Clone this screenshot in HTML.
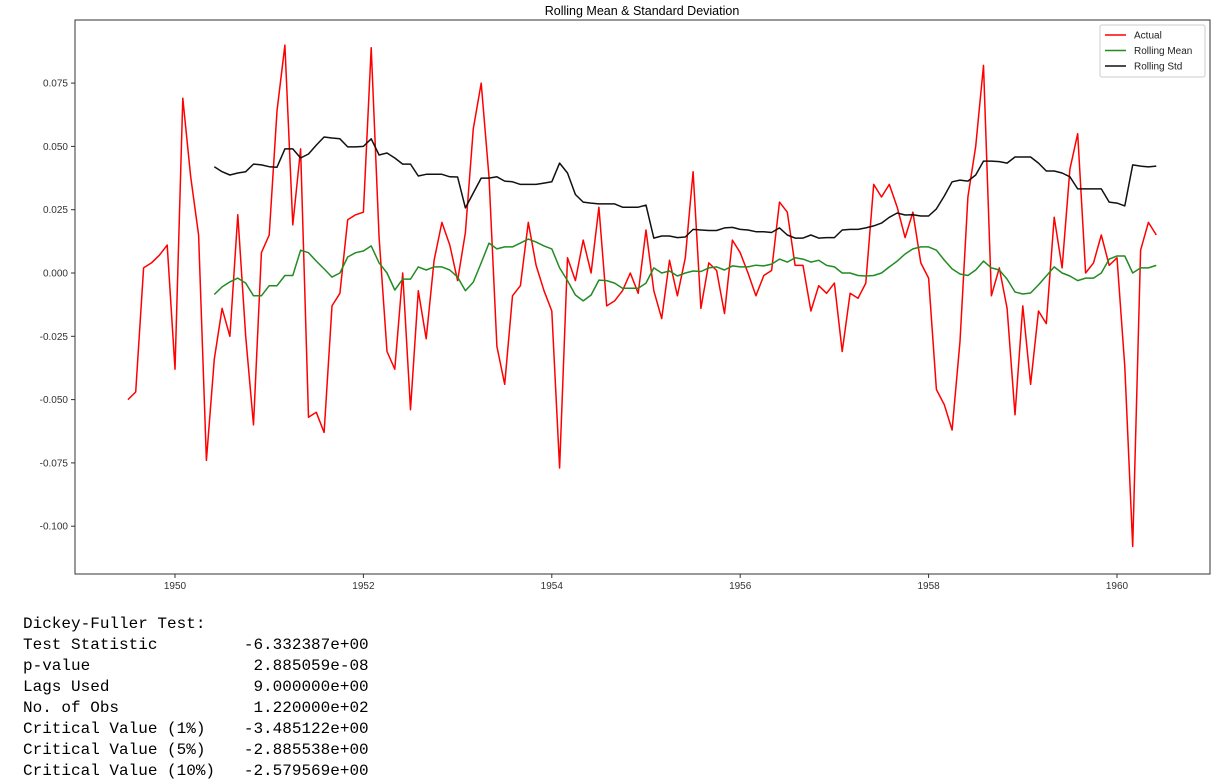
<!DOCTYPE html>
<html><head><meta charset="utf-8"><style>
body{margin:0;background:#fff;width:1232px;height:782px;overflow:hidden;position:relative;font-family:"Liberation Sans",sans-serif}
pre{position:absolute;left:23px;top:614px;margin:0;font-family:"Liberation Mono",monospace;font-size:16px;line-height:21px;color:#000}
</style></head><body>
<svg id="chart" width="1232" height="600" style="position:absolute;left:0;top:0"></svg>
<pre>Dickey-Fuller Test:
Test Statistic         -6.332387e+00
p-value                 2.885059e-08
Lags Used               9.000000e+00
No. of Obs              1.220000e+02
Critical Value (1%)    -3.485122e+00
Critical Value (5%)    -2.885538e+00
Critical Value (10%)   -2.579569e+00</pre>
<script>
const actual=[-0.050,-0.047,0.002,0.004,0.007,0.011,-0.038,0.069,0.038,0.015,-0.074,-0.034,-0.014,-0.025,0.023,-0.025,-0.060,0.008,0.015,0.064,0.090,0.019,0.049,-0.057,
-0.055,-0.063,-0.013,-0.008,0.021,0.023,0.024,0.089,0.014,-0.031,-0.038,0.000,-0.054,-0.007,-0.026,0.005,0.020,0.011,-0.003,0.016,0.057,0.075,
0.038,-0.029,-0.044,-0.009,-0.005,0.020,0.003,-0.007,-0.015,-0.077,0.006,-0.003,0.013,0.000,0.026,-0.013,-0.011,-0.007,0.000,-0.008,0.017,-0.007,-0.018,
0.005,-0.009,0.006,0.040,-0.014,0.004,0.001,-0.016,0.013,0.008,0.000,-0.009,-0.001,0.001,0.028,0.024,0.003,0.003,-0.015,-0.005,-0.008,-0.004,-0.031,
-0.008,-0.010,-0.004,0.035,0.030,0.035,0.026,0.014,0.024,0.004,-0.002,-0.046,-0.052,-0.062,-0.027,0.030,0.050,0.082,-0.009,0.002,-0.014,-0.056,-0.013,
-0.044,-0.015,-0.020,0.022,0.002,0.041,0.055,0.000,0.004,0.015,0.003,0.006,-0.037,-0.108,0.009,0.020,0.015];
const rollMean=[-0.0085,-0.0055,-0.0035,-0.002,-0.004,-0.009,-0.009,-0.005,-0.005,-0.001,-0.001,0.009,0.008,
0.0047,0.0016,-0.0016,0.000,0.0063,0.008,0.0087,0.0107,0.004,0.000,-0.0067,-0.0024,-0.0024,0.0024,0.0012,0.0024,0.0024,0.0012,-0.0016,-0.007,-0.0036,0.004,
0.0118,0.0095,0.0103,0.0103,0.0118,0.0134,0.0122,0.0107,0.0095,0.002,-0.003,-0.0087,-0.011,-0.0087,-0.0028,-0.003,-0.004,-0.006,-0.006,-0.006,-0.004,0.002,0.000,
0.0008,-0.0012,0.000,0.0008,0.0006,0.002,0.0024,0.0012,0.0028,0.0024,0.0024,0.0031,0.0028,0.0035,0.0055,0.0043,0.006,0.0055,0.0043,0.005,0.003,0.0024,0.000,
0.000,-0.001,-0.0012,-0.001,0.000,0.0024,0.0047,0.0075,0.0095,0.0103,0.0103,0.009,0.0051,0.0016,-0.0004,-0.001,0.0012,0.0047,0.002,0.0012,-0.0024,-0.0075,-0.0083,
-0.0079,-0.0047,-0.0012,0.0024,0.000,-0.0012,-0.003,-0.002,-0.002,0.000,0.0055,0.0067,0.0067,0.000,0.002,0.002,0.003];
const rollStd=[0.042,0.040,0.0387,0.0395,0.040,0.043,0.0427,0.042,0.0418,0.049,0.049,0.0454,0.047,
0.0505,0.0537,0.0533,0.053,0.0498,0.0498,0.050,0.053,0.0466,0.0474,0.0454,0.043,0.043,0.0383,0.039,0.039,0.039,0.038,0.0379,0.0257,0.0316,0.0375,
0.0375,0.038,0.0363,0.036,0.035,0.035,0.035,0.0355,0.036,0.0434,0.0395,0.031,0.028,0.0276,0.0273,0.0273,0.0273,0.026,0.026,0.026,0.0268,0.0138,0.0146,
0.0146,0.014,0.0142,0.0172,0.017,0.0168,0.0168,0.0178,0.018,0.0172,0.017,0.0163,0.0163,0.016,0.0178,0.015,0.0138,0.0138,0.015,0.0138,0.014,0.014,0.017,
0.0172,0.0172,0.0178,0.0186,0.0197,0.022,0.0237,0.0229,0.023,0.0225,0.0225,0.0253,0.0304,0.036,0.0367,0.0363,0.0387,0.0442,0.0442,0.044,0.0434,0.0458,0.0458,
0.0458,0.0434,0.0403,0.0403,0.0395,0.038,0.0332,0.0332,0.0332,0.0332,0.028,0.0276,0.0265,0.0427,0.0422,0.0419,0.0422];
const xTicks=[1950,1952,1954,1956,1958,1960];
const yTicks=[-0.100,-0.075,-0.050,-0.025,0.000,0.025,0.050,0.075];
const startYear=1949.5, windowOffset=11;

const NS='http://www.w3.org/2000/svg';
const svg=document.getElementById('chart');
const L=75,R=1210,T=20,B=574;
const xs=y=>175+(y-1950)*94.2;
const ys=v=>273-v*2532;
const yr=i=>startYear+i/12;
function mk(tag,attrs,parent){const e=document.createElementNS(NS,tag);for(const k in attrs)e.setAttribute(k,attrs[k]);(parent||svg).appendChild(e);return e;}

const title=mk('text',{x:642,y:15,'text-anchor':'middle','font-size':12.5,fill:'#000'});
title.textContent='Rolling Mean & Standard Deviation';



const frame=mk('rect',{x:L,y:T,width:R-L,height:B-T,fill:'none',stroke:'#333','stroke-width':1});



xTicks.forEach(t=>{
  const x=xs(t);
  const tk=mk('line',{x1:x,x2:x,y1:B,y2:B+4,stroke:'#333'});
  
  
  const tx=mk('text',{x:x,y:B+15,'text-anchor':'middle','font-size':10,fill:'#333'});
  tx.textContent=t;
  
  
});
yTicks.forEach(t=>{
  const y=ys(t);
  const tk=mk('line',{x1:L-4,x2:L,y1:y,y2:y,stroke:'#333'});
  
  
  const tx=mk('text',{x:L-7,y:y+3.5,'text-anchor':'end','font-size':10,fill:'#333'});
  tx.textContent=t.toFixed(3);
  
  
});

function series(arr,off,color,name){
  const pts=arr.map((v,i)=>xs(yr(i+off)).toFixed(1)+','+ys(v).toFixed(1)).join(' ');
  const p=mk('polyline',{points:pts,fill:'none',stroke:color,'stroke-width':1.5,'stroke-linejoin':'round'});
  
  
}
series(actual,0,'#ff0000','actual-line');
series(rollMean,windowOffset,'#228b22','rolling-mean-line');
series(rollStd,windowOffset,'#111','rolling-std-line');

const lg=mk('g',{});


mk('rect',{x:1100,y:25,width:105,height:52,fill:'#fff',stroke:'#ccc',rx:2},lg);
[['Actual','#ff0000'],['Rolling Mean','#228b22'],['Rolling Std','#111']].forEach((e,k)=>{
  const y=35+k*15.5;
  const ln=mk('line',{x1:1105,x2:1126,y1:y,y2:y,stroke:e[1],'stroke-width':1.5},lg);
  
  
  const tx=mk('text',{x:1134,y:y+3.5,'font-size':10,fill:'#222'},lg);
  tx.textContent=e[0];
  
  
});
</script>
</body></html>
